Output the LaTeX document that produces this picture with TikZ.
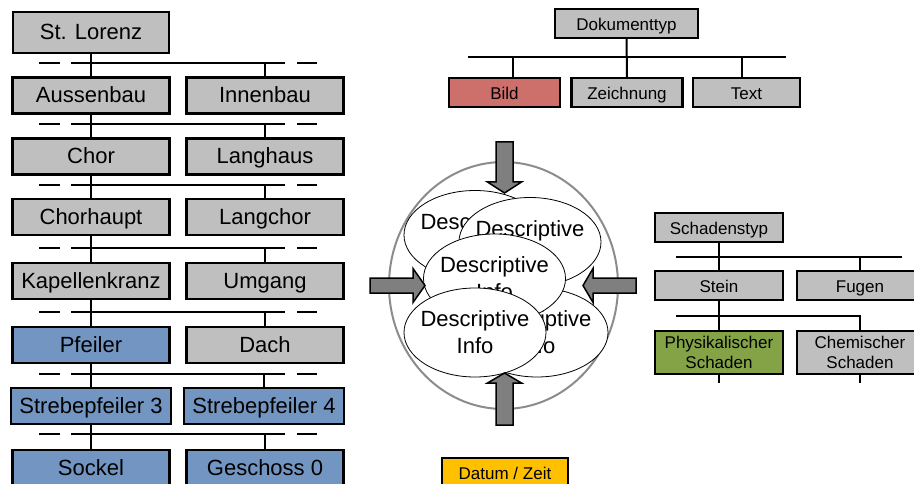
\documentclass[tikz,border=0pt]{standalone}
\usepackage{fontspec}
\setmainfont{Liberation Sans}
\usetikzlibrary{shapes.geometric}

\definecolor{boxgray}{HTML}{BFBFBF}
\definecolor{boxblue}{HTML}{7395C2}
\definecolor{boxred}{HTML}{CD6F6A}
\definecolor{boxgreen}{HTML}{84A346}
\definecolor{boxorange}{HTML}{FFC000}
\definecolor{arrowgray}{HTML}{7F7F7F}
\definecolor{ringgray}{HTML}{8C8C8C}

\begin{document}
\begin{tikzpicture}[x=1pt,y=-1pt,
  box/.style={draw=black, line width=2.2pt, fill=boxgray, inner sep=0pt, align=center},
  big/.style={box, minimum width=157pt, minimum height=36pt, text height=16pt, text depth=1.2pt, font=\fontsize{22}{26}\selectfont},
  smallbase/.style={box, minimum height=29pt, font=\fontsize{17}{20.5}\selectfont},
  small/.style={smallbase, text height=14pt, text depth=0.4pt},
  link/.style={line width=2pt},
  bubble/.style={ellipse, draw=black, line width=0.8pt, fill=white, minimum width=142pt, minimum height=89pt, inner sep=0pt},
  bubtext/.style={align=center, inner sep=0pt, font=\fontsize{22}{27}\selectfont},
  fat/.style={draw=black, line width=1.5pt, fill=arrowgray, line join=miter}
]
\useasboundingbox (0,0) rectangle (914,484);

% ---------- building hierarchy (left) ----------
\node[big, minimum height=41pt, minimum width=156pt] (lorenz) at (91,32.5) {St. Lorenz};
\node[big] (aussen)   at (91,95.5)  {Aussenbau};
\node[big] (innen)    at (265,95.5) {Innenbau};
\node[big] (chor)     at (91,156.5) {Chor};
\node[big] (langhaus) at (265,156.5) {Langhaus};
\node[big] (chorhaupt) at (91,217) {Chorhaupt};
\node[big] (langchor) at (265,217) {Langchor};
\node[big] (kapelle)  at (91,281) {Kapellenkranz};
\node[big] (umgang)   at (265,281) {Umgang};
\node[big, fill=boxblue] (pfeiler) at (91,345) {Pfeiler};
\node[big] (dach)     at (265,345) {Dach};
\node[big, fill=boxblue, minimum width=160pt] (streb3) at (91,406) {Strebepfeiler 3};
\node[big, fill=boxblue, minimum width=160pt] (streb4) at (264,406) {Strebepfeiler 4};
\node[big, fill=boxblue] (sockel)   at (91,468) {Sockel};
\node[big, fill=boxblue] (geschoss) at (265,468) {Geschoss 0};

\foreach \p/\a/\b/\y in {lorenz/aussen/innen/63, aussen/chor/langhaus/124,
    chor/chorhaupt/langchor/185, chorhaupt/kapelle/umgang/248,
    kapelle/pfeiler/dach/312, pfeiler/streb3/streb4/374, streb3/sockel/geschoss/434}{
  \coordinate (bar) at (0,\y);
  \draw[link] (\p.south) -- (\a.north);
  \draw[link] (71,\y) -- (285,\y);
  \draw[link] (\b.north |- bar) -- (\b.north);
  \draw[link] (39,\y) -- (60,\y) (297,\y) -- (317,\y);
}

% ---------- document type ----------
\node[small, minimum width=143pt] (doktyp) at (626.5,23.5) {Dokumenttyp};
\node[small, minimum width=111pt, fill=boxred] (bild) at (504.5,92.5) {Bild};
\node[small, minimum width=111pt] (zeich) at (627,92.5) {Zeichnung};
\node[small, minimum width=107pt] (text) at (746.5,92.5) {Text};
\coordinate (dl) at (468,57);
\coordinate (dr) at (786,57);
\coordinate (bildtap) at (513,57);
\coordinate (texttap) at (742,57);
\draw[link] (dl) -- (dr);
\draw[link] (doktyp.south) -- (zeich.north);
\draw[link] (bildtap) -- (bildtap |- bild.north);
\draw[link] (texttap) -- (texttap |- text.north);

% ---------- damage type ----------
\node[small, minimum width=128pt] (schaden) at (719,227.5) {Schadenstyp};
\node[small, minimum width=128pt] (stein) at (719,285.5) {Stein};
\node[small, minimum width=126pt] (fugen) at (860,285.5) {Fugen};
\node[smallbase, minimum width=128pt, minimum height=43pt, fill=boxgreen] (phys) at (719,352.5) {Physikalischer\\Schaden};
\node[smallbase, minimum width=126pt, minimum height=43pt] (chem) at (860,352.5) {Chemischer\\Schaden};
\coordinate (sl) at (676,257);
\coordinate (sr) at (902,257);
\coordinate (sl2) at (676,316);
\draw[link] (sl) -- (sr);
\draw[link] (schaden.south) -- (stein.north);
\draw[link] (fugen.north |- sl) -- (fugen.north);
\draw[link] (stein.south) -- (phys.north);
\draw[link] (sl2) -- (chem.north |- sl2) -- (chem.north);
\coordinate (physend) at (719,383);
\coordinate (chemend) at (860,383);
\draw[link] (phys.south) -- (physend);
\draw[link] (chem.south) -- (chemend);

% ---------- date ----------
\node[small, minimum width=126pt, fill=boxorange] (datum) at (505,472.5) {Datum / Zeit};

% ---------- descriptive info cluster ----------
\node[ellipse, draw=ringgray, line width=2pt, minimum width=229pt, minimum height=247pt, inner sep=0pt] (ring) at (503.5,285.5) {};

\node[bubble] (e1) at (475,235) {};
\node[bubtext] (e1t) at (e1) {Descriptive\\Info};
\node[bubble] (e2) at (530,242) {};
\node[bubtext] (e2t) at (e2) {Descriptive\\Info};
\node[bubble] (e4) at (537,332.5) {};
\node[bubtext] (e4t) at (e4) {Descriptive\\Info};
\node[bubble] (e3) at (494.5,278.5) {};
\node[bubtext] (e3t) at (e3) {Descriptive\\Info};
\node[bubble] (e5) at (475,332.5) {};
\node[bubtext] (e5t) at (e5) {Descriptive\\Info};

% block arrows pointing into the ring
\draw[fat] (496,142) -- (513,142) -- (513,182) -- (521.5,182) -- (504.5,193)
  -- (487.5,182) -- (496,182) -- cycle;
\draw[fat] (496,425) -- (513,425) -- (513,383) -- (521.5,383) -- (504.5,373)
  -- (487.5,383) -- (496,383) -- cycle;
\draw[fat] (370,278) -- (413,278) -- (413,268.5) -- (425,285.5) -- (413,302.5)
  -- (413,293) -- (370,293) -- cycle;
\draw[fat] (636,278) -- (593,278) -- (593,268.5) -- (583,285.5) -- (593,302.5)
  -- (593,293) -- (636,293) -- cycle;
\end{tikzpicture}
\end{document}
